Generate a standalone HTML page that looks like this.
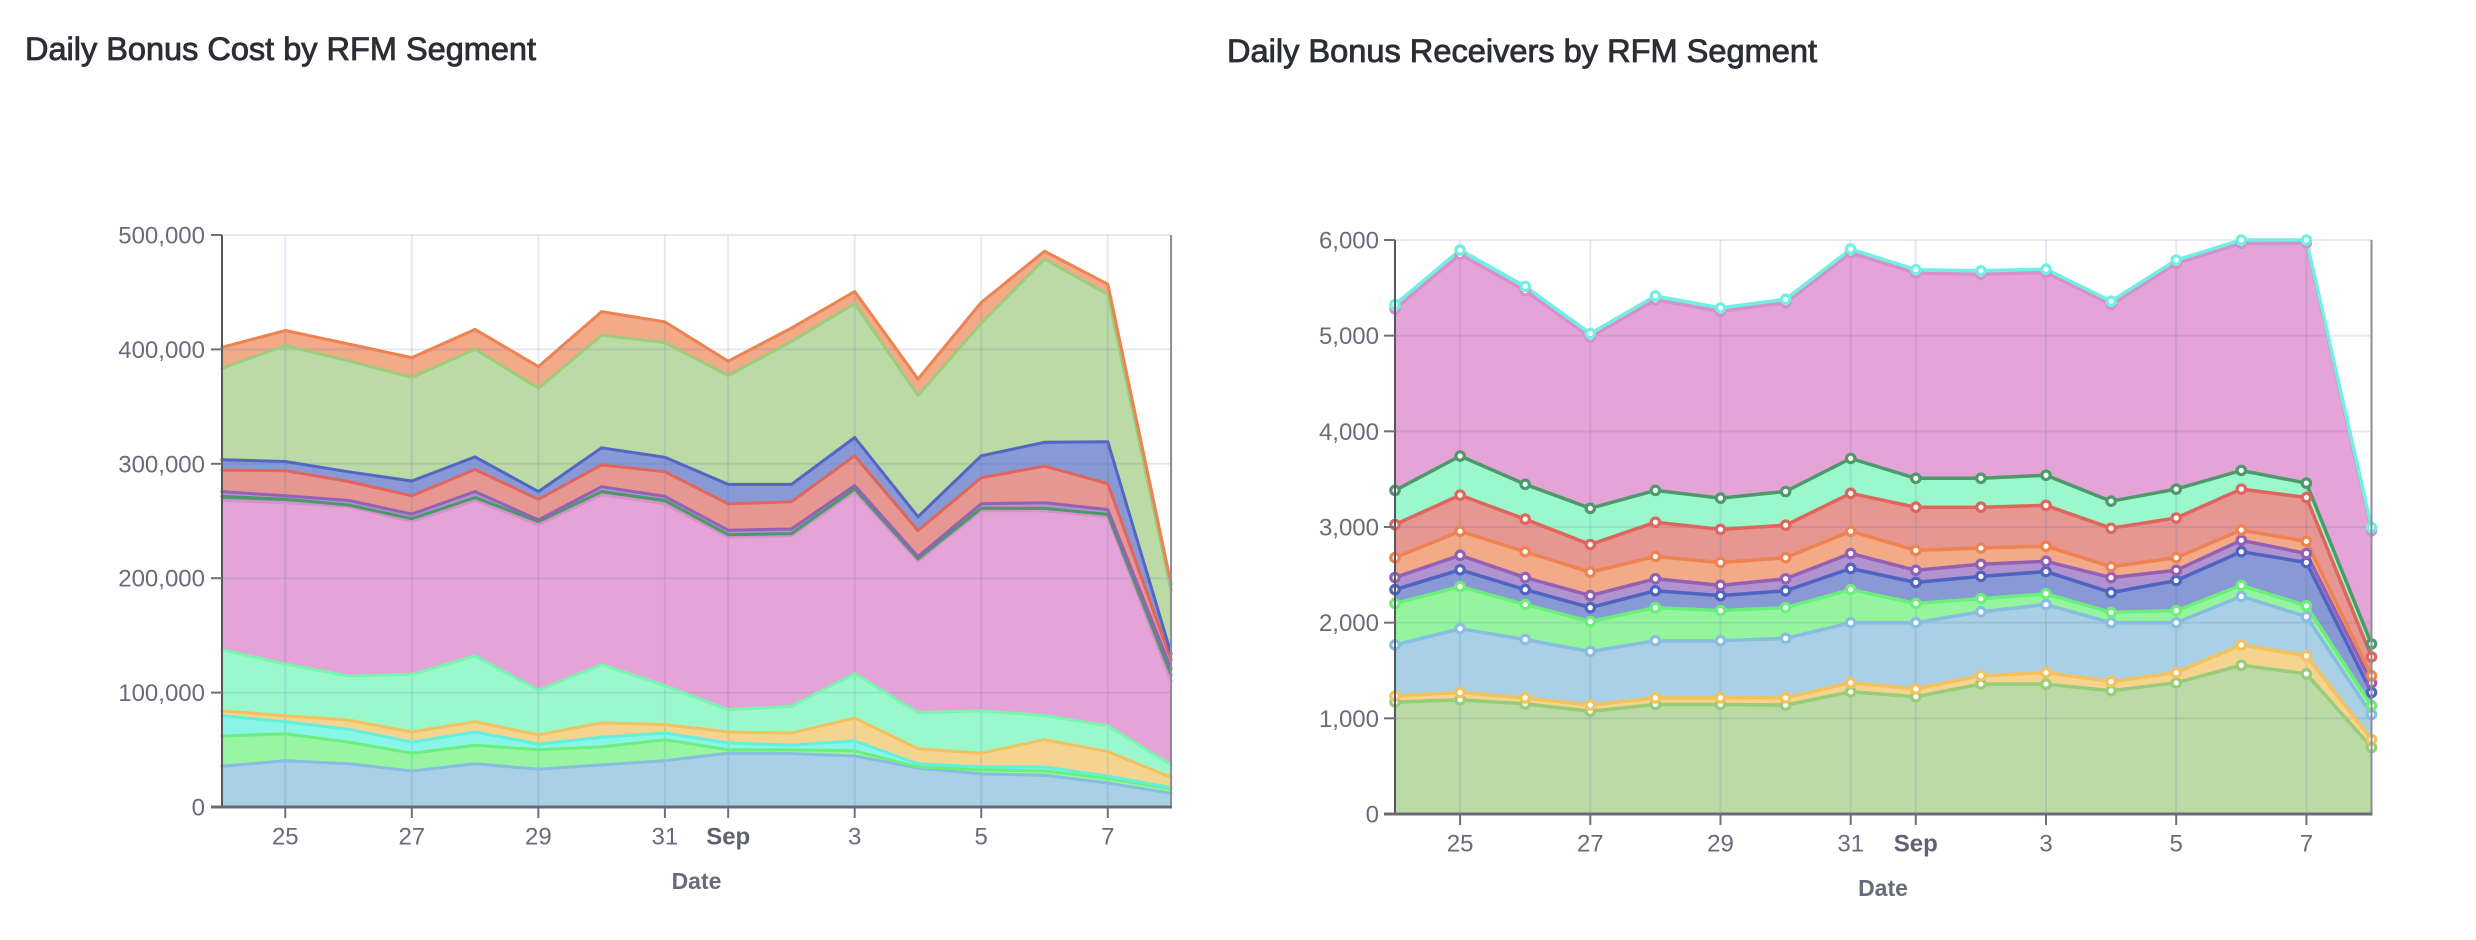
<!DOCTYPE html>
<html><head><meta charset="utf-8">
<style>
html,body{margin:0;padding:0;background:#fff;}
svg{display:block;}
text{font-family:"Liberation Sans",Arial,sans-serif;}
.t{font-size:32px;fill:#2b2e35;stroke:#2b2e35;stroke-width:0.85px;}
.yl{font-size:24px;fill:#686c7a;text-anchor:end;}
.xl{font-size:24px;fill:#686c7a;text-anchor:middle;}
.xb{font-size:24px;fill:#5f6270;text-anchor:middle;font-weight:bold;}
.at{font-size:23px;fill:#686c7a;text-anchor:middle;font-weight:bold;}
</style></head>
<body>
<svg id="s" width="2476" height="940" viewBox="0 0 2476 940" xmlns="http://www.w3.org/2000/svg">
<rect width="2476" height="940" fill="#fff"/>
<g id="L"></g>
<g id="R"></g>

<text class="t" x="25" y="60" textLength="511" lengthAdjust="spacingAndGlyphs">Daily Bonus Cost by RFM Segment</text>
<text class="t" x="1227" y="62" textLength="590" lengthAdjust="spacingAndGlyphs">Daily Bonus Receivers by RFM Segment</text>

<!-- left y labels -->
<text class="yl" x="205" y="815.5">0</text>
<text class="yl" x="205" y="701.1">100,000</text>
<text class="yl" x="205" y="586.7">200,000</text>
<text class="yl" x="205" y="472.3">300,000</text>
<text class="yl" x="205" y="357.9">400,000</text>
<text class="yl" x="205" y="243.5">500,000</text>
<!-- left x labels -->
<text class="xl" x="285.3" y="844.5">25</text>
<text class="xl" x="411.8" y="844.5">27</text>
<text class="xl" x="538.4" y="844.5">29</text>
<text class="xl" x="664.9" y="844.5">31</text>
<text class="xb" x="728.2" y="844.5">Sep</text>
<text class="xl" x="854.7" y="844.5">3</text>
<text class="xl" x="981.2" y="844.5">5</text>
<text class="xl" x="1107.8" y="844.5">7</text>
<text class="at" x="696.5" y="889">Date</text>

<!-- right y labels -->
<text class="yl" x="1379" y="822.5">0</text>
<text class="yl" x="1379" y="726.8">1,000</text>
<text class="yl" x="1379" y="631.2">2,000</text>
<text class="yl" x="1379" y="535.5">3,000</text>
<text class="yl" x="1379" y="439.8">4,000</text>
<text class="yl" x="1379" y="344.2">5,000</text>
<text class="yl" x="1379" y="248.5">6,000</text>
<!-- right x labels -->
<text class="xl" x="1460.1" y="851.5">25</text>
<text class="xl" x="1590.3" y="851.5">27</text>
<text class="xl" x="1720.5" y="851.5">29</text>
<text class="xl" x="1850.7" y="851.5">31</text>
<text class="xb" x="1915.8" y="851.5">Sep</text>
<text class="xl" x="2046" y="851.5">3</text>
<text class="xl" x="2176.2" y="851.5">5</text>
<text class="xl" x="2306.4" y="851.5">7</text>
<text class="at" x="1883" y="896">Date</text>
</svg>
<script>
const NS="http://www.w3.org/2000/svg";
function el(p,t,a){const e=document.createElementNS(NS,t);for(const k in a)e.setAttribute(k,a[k]);p.appendChild(e);return e;}
function chart(g,c){
  const n=16,X=i=>c.x0+i*c.dx,Y=v=>c.y0-v*c.sc,xe=X(15);
  let prev=new Array(n).fill(0);
  c.layers.forEach(L=>{
    const pts=[];
    for(let i=0;i<n;i++)pts.push(X(i).toFixed(1)+','+Y(L.v[i]).toFixed(1));
    for(let i=n-1;i>=0;i--)pts.push(X(i).toFixed(1)+','+Y(prev[i]).toFixed(1));
    el(g,'polygon',{points:pts.join(' '),fill:L.f});
    prev=L.v;
  });
  // grid
  c.yt.forEach(v=>{const y=Y(v);el(g,'line',{x1:c.x0,x2:xe,y1:y,y2:y,stroke:'rgba(80,100,180,0.14)','stroke-width':2});});
  c.xt.forEach(d=>{const x=X(d);el(g,'line',{x1:x,x2:x,y1:c.top,y2:c.y0,stroke:'rgba(80,100,180,0.14)','stroke-width':2});});
  // lines
  c.layers.forEach(L=>{
    const pts=[];for(let i=0;i<n;i++)pts.push(X(i).toFixed(1)+','+Y(L.v[i]).toFixed(1));
    el(g,'polyline',{points:pts.join(' '),fill:'none',stroke:L.l,'stroke-width':c.lw,'stroke-linejoin':'round','stroke-linecap':'round'});
  });
  if(c.mk){
    c.layers.forEach(L=>{for(let i=0;i<n;i++)el(g,'circle',{cx:X(i),cy:Y(L.v[i]),r:4.2,fill:'#fff',stroke:L.l,'stroke-width':3.2});});
  }
  // axes
  el(g,'line',{x1:xe,x2:xe,y1:c.top,y2:c.y0,stroke:'#8a8d96','stroke-width':2});
  el(g,'line',{x1:c.x0,x2:c.x0,y1:c.top,y2:c.y0,stroke:'#55575f','stroke-width':2});
  c.yt.forEach(v=>{const y=Y(v);el(g,'line',{x1:c.x0-11,x2:c.x0,y1:y,y2:y,stroke:'#6e717b','stroke-width':2});});
  c.xt.forEach(d=>{const x=X(d);el(g,'line',{x1:x,x2:x,y1:c.y0,y2:c.y0+11,stroke:'#6e717b','stroke-width':2});});
  el(g,'line',{x1:c.x0-11,x2:xe+1,y1:c.y0,y2:c.y0,stroke:'#6a6c75','stroke-width':3});
}
const K=a=>a.map(v=>v*1000);
chart(document.getElementById('L'),{
  x0:222,dx:63.27,y0:807,sc:572/500000,top:235,lw:3,mk:false,
  yt:[0,100000,200000,300000,400000,500000],xt:[1,3,5,7,8,10,12,14],
  layers:[
   {f:'#a9d0e4',l:'#88bce0',v:K([35.7,40.4,37.8,31.5,37.8,33,36.8,40.4,47,46.7,44.6,34,28.9,27.8,21,12])},
   {f:'#98f5a2',l:'#6cee7c',v:K([62,64,56.7,47,54,50,52.5,58.8,50,50,49,35,32.5,31.5,25,15.8])},
   {f:'#88f5e6',l:'#62f0dc',v:K([79.8,74.6,68,56.7,65.6,55,61,64.6,56,54,57.8,37.8,35,35,27,17])},
   {f:'#f5d48f',l:'#f2c15e',v:K([84,79.8,76,65.6,74.6,63,73.5,72,65.6,64.6,77.7,51,47,58.8,48.3,26])},
   {f:'#9af8cc',l:'#7af5b0',v:K([137.6,125,114.5,116,132,102,124.5,106,85,88,116.6,82.5,84,80,71,36.8])},
   {f:'#e4a4d7',l:'#d890cc',v:K([268,266,262.6,249.5,268,246.8,273,265,236,237,275.7,215,259,259,253.7,110])},
   {f:'#5aa477',l:'#4a9a68',v:K([271.5,269,264,252,270.5,249.5,275.7,267.9,238,239,278,217,261,261,255.8,115.5])},
   {f:'#b193cf',l:'#9362b6',v:K([275.7,272,268,256,275.7,251,280,271.5,242,243,281,219,265,266,260,120.8])},
   {f:'#e69792',l:'#e0655d',v:K([294.5,294,284.5,272,295,269,299,293,265,266.8,307,241.6,287.8,298,282.6,128.7])},
   {f:'#8999d6',l:'#5266c2',v:K([303.5,302,293,285,306,275.7,314,305.7,282,282,323,253.7,307,318.8,319.3,134])},
   {f:'#bbdaa5',l:'#9bcd7c',v:K([383.4,403.4,390,375.5,400.2,366,412.3,406,377,407,440,359.8,422.8,479,448,189])},
   {f:'#f2aa89',l:'#ee8250',v:K([401.8,416.5,404.7,392.8,417.5,385,433,424,389.7,418.6,450.6,374,441,485.8,457,195])}
  ]
});
const P=[5280,5850,5470,4985,5375,5255,5345,5865,5655,5640,5660,5325,5755,5965,5970,2960];
chart(document.getElementById('R'),{
  x0:1395,dx:65.1,y0:814,sc:574/6000,top:240,lw:3.5,mk:true,
  yt:[0,1000,2000,3000,4000,5000,6000],xt:[1,3,5,7,8,10,12,14],
  layers:[
   {f:'#bbdaa5',l:'#97cc78',v:[1170,1195,1151,1075,1145,1145,1138,1277,1226,1358,1358,1289,1371,1555,1465,695]},
   {f:'#f5d48f',l:'#f3c25c',v:[1233,1270,1214,1138,1214,1214,1214,1371,1308,1446,1478,1384,1478,1767,1654,780]},
   {f:'#a9d0e4',l:'#88bce0',v:[1767,1937,1824,1698,1811,1811,1836,2000,2000,2113,2189,2000,2000,2275,2063,1040]},
   {f:'#95f59f',l:'#6cee7a',v:[2201,2377,2189,2012,2157,2126,2157,2346,2201,2251,2302,2107,2126,2390,2176,1132]},
   {f:'#8999d6',l:'#4f63c0',v:[2346,2553,2346,2157,2333,2283,2333,2566,2421,2484,2534,2314,2440,2742,2629,1270]},
   {f:'#b193cf',l:'#9460b5',v:[2472,2704,2472,2283,2459,2390,2459,2723,2547,2610,2641,2471,2547,2861,2723,1370]},
   {f:'#f2aa89',l:'#ee8250',v:[2679,2956,2742,2528,2692,2629,2679,2956,2755,2780,2799,2585,2679,2968,2849,1445]},
   {f:'#e69792',l:'#e0655d',v:[3025,3333,3082,2817,3050,2975,3019,3352,3207,3207,3226,2987,3094,3396,3308,1642]},
   {f:'#9af8cc',l:'#4c9a6a',v:[3383,3742,3446,3195,3383,3302,3371,3717,3509,3509,3541,3270,3396,3591,3459,1778]},
   {f:'#e4a4d7',l:'#d890cc',v:P},
   {f:'#8cf2e6',l:'#6ff0e2',v:[5325,5895,5515,5022,5415,5290,5380,5905,5690,5678,5695,5360,5790,6000,6000,2995]}
  ]
});
</script>
</body></html>
